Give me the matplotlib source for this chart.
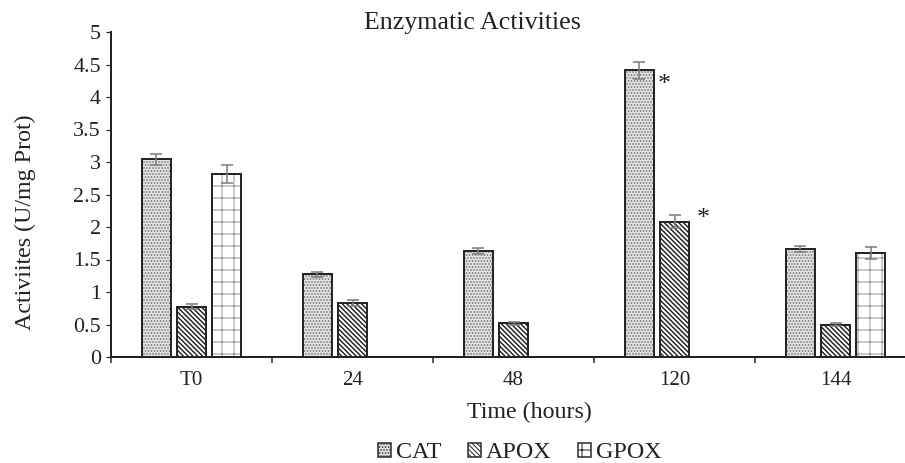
import numpy as np
import matplotlib
matplotlib.use("Agg")
import matplotlib.pyplot as plt
from matplotlib.patches import Patch

# data
times = ["T0", "24", "48", "120", "144"]
cat = [3.04, 1.27, 1.63, 4.41, 1.66]
cat_err = [0.09, 0.035, 0.04, 0.13, 0.05]
apox = [0.775, 0.83, 0.52, 2.08, 0.50]
apox_err = [0.04, 0.04, 0.02, 0.10, 0.02]
gpox = [2.81, 0, 0, 0, 1.60]
gpox_err = [0.14, 0, 0, 0, 0.09]

W, H = 905, 463
DPI = 72
plt.rcParams['font.family'] = ['Liberation Serif', 'DejaVu Serif']
plt.rcParams['hatch.linewidth'] = 1.0

fig = plt.figure(figsize=(W / DPI, H / DPI), dpi=DPI)
# axes in pixel terms: left 111, right 916 (runs past the edge), y0 at 357, y5 at 32
ax = fig.add_axes([111 / W, (H - 357) / H, (916 - 111) / W, 325 / H])

x = np.arange(len(times))
off = 0.22
bw = 0.18
edge = '#262626'

# values, errors, offset, face, hatch colour, hatch, hatch width
series = [
    (cat, cat_err, -off, '#e2e2e2', '#6a6a6a', '....', 1.0),
    (apox, apox_err, 0.0, 'white', '#1a1a1a', '\\' * 5, 1.4),
    (gpox, gpox_err, off, 'white', '#8c8c8c', '+', 0.9),
]

for vals, errs, dx, face, hcol, hatch, hlw in series:
    vals = np.array(vals)
    mask = vals > 0
    xs = x[mask] + dx
    # hatch layer (edge colour drives hatch colour)
    plt.rcParams['hatch.linewidth'] = hlw
    bars = ax.bar(xs, vals[mask], width=bw, color=face, edgecolor=hcol,
                  hatch=hatch, linewidth=0, zorder=2)
    for b in bars:
        if hasattr(b, 'set_hatch_linewidth'):
            b.set_hatch_linewidth(hlw)
    # outline
    ax.bar(xs, vals[mask], width=bw, fill=False, edgecolor=edge,
           linewidth=2, zorder=3)
    ax.errorbar(xs, vals[mask], yerr=np.array(errs)[mask], fmt='none',
                ecolor='#808080', elinewidth=1.6, capsize=6, capthick=1.6,
                zorder=4)
plt.rcParams['hatch.linewidth'] = 1.0

# significance marks
ax.text(3 - off + 0.155, cat[3] - 0.22, '*', fontsize=26, ha='center',
        va='center', color='#222222')
ax.text(3 + 0.18, apox[3] + 0.04, '*', fontsize=26, ha='center',
        va='center', color='#222222')

ax.set_xlim(-0.5, 4.5)
ax.set_ylim(0, 5)
ax.set_yticks(np.arange(0, 5.01, 0.5))
ax.set_yticklabels(['0', '0.5', '1', '1.5', '2', '2.5', '3', '3.5', '4', '4.5', '5'])
ax.set_xticks(x)
ax.set_xticklabels(times)
ax.set_xticks(np.arange(-0.5, 4.6, 1), minor=True)
ax.tick_params(axis='x', which='major', length=0, labelsize=21, pad=14,
               colors='#222222')
ax.tick_params(axis='x', which='minor', length=6, width=1.5, direction='out',
               colors='#222222')
ax.tick_params(axis='y', length=5, width=1.2, labelsize=22, pad=5,
               colors='#222222')

for s in ['top', 'right']:
    ax.spines[s].set_visible(False)
for s in ['left', 'bottom']:
    ax.spines[s].set_linewidth(2)
    ax.spines[s].set_color('#222222')

fig.text(472 / W, 1 - 23 / H, 'Enzymatic Activities', fontsize=26,
         ha='center', va='center', color='#222222')
fig.text(529 / W, 1 - 418 / H, 'Time (hours)', fontsize=24, ha='center',
         va='baseline', color='#222222')
fig.text(25 / W, 1 - 222 / H, 'Activiites (U/mg Prot)', fontsize=24,
         rotation=90, ha='center', va='center', color='#222222')

handles = [Patch(facecolor=s[3], edgecolor=edge, hatch=s[5], linewidth=1.5)
           for s in series]
fig.legend(handles, ['CAT', 'APOX', 'GPOX'], ncol=3, frameon=False,
           loc='center', bbox_to_anchor=(520 / W, 1 - 453 / H),
           fontsize=24, handlelength=0.55, handleheight=0.55,
           handletextpad=0.2, columnspacing=1.1, borderpad=0,
           labelcolor='#222222')

fig.savefig('out.png', dpi=DPI)
